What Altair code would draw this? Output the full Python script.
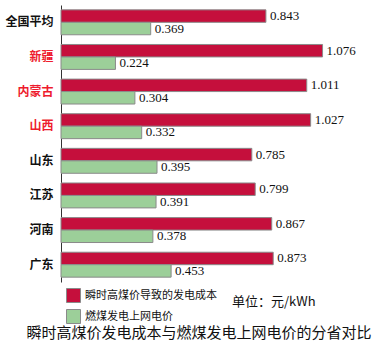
import altair as alt
import pandas as pd

provinces = ["全国平均", "新疆", "内蒙古", "山西", "山东", "江苏", "河南", "广东"]
series_names = ["瞬时高煤价导致的发电成本", "燃煤发电上网电价"]
cost = [0.843, 1.076, 1.011, 1.027, 0.785, 0.799, 0.867, 0.873]
price = [0.369, 0.224, 0.304, 0.332, 0.395, 0.391, 0.378, 0.453]
red_provinces = ["新疆", "内蒙古", "山西"]
unit_text = "单位：元/kWh"
title_text = "瞬时高煤价发电成本与燃煤发电上网电价的分省对比"

rows = []
for p, c, pr in zip(provinces, cost, price):
    rows.append({"province": p, "series": series_names[0], "value": c, "label": f"{c:.3f}"})
    rows.append({"province": p, "series": series_names[1], "value": pr, "label": f"{pr:.3f}"})
df = pd.DataFrame(rows)

red_list = ",".join(f"'{p}'" for p in red_provinces)
label_color_expr = f"indexof([{red_list}], datum.value) >= 0 ? '#ee1c2e' : '#111111'"

y_enc = alt.Y(
    "province:N",
    sort=provinces,
    scale=alt.Scale(paddingInner=0.28, paddingOuter=0.14),
    axis=alt.Axis(
        title=None,
        ticks=False,
        domainColor="#333333",
        labelFont="Noto Sans CJK SC",
        labelFontWeight="bold",
        labelFontSize=12,
        labelPadding=8,
        labelColor=alt.ExprRef(label_color_expr),
    ),
)
yoff = alt.YOffset("series:N", sort=series_names, scale=alt.Scale(domain=series_names))
x_enc = alt.X("value:Q", scale=alt.Scale(domain=[0, 1.3], nice=False), axis=None)

base = alt.Chart(df)

bars = base.mark_bar(stroke="#8a8a8a", strokeWidth=1).encode(
    y=y_enc,
    yOffset=yoff,
    x=x_enc,
    color=alt.Color(
        "series:N",
        scale=alt.Scale(domain=series_names, range=["#c50f3c", "#9ccf99"]),
        legend=alt.Legend(
            title=None,
            orient="none",
            legendX=5,
            legendY=283,
            direction="vertical",
            symbolType="square",
            symbolSize=196,
            symbolStrokeColor="#8a8a8a",
            symbolStrokeWidth=1,
            symbolOpacity=1,
            labelFont="Noto Sans CJK SC",
            labelFontSize=11,
            labelColor="#111111",
            rowPadding=2,
            padding=0,
        ),
    ),
)

texts = base.mark_text(
    align="left", baseline="middle", dx=4, font="Liberation Serif", fontSize=13, color="#111111"
).encode(y=alt.Y("province:N", sort=provinces), yOffset=yoff, x=x_enc, text="label:N")

unit = alt.Chart(pd.DataFrame({"t": [unit_text]})).mark_text(
    align="left", baseline="middle", font="Noto Sans CJK SC", fontSize=13, color="#111111"
).encode(x=alt.value(171), y=alt.value(297), text="t:N")

chart = (
    alt.layer(bars, texts, unit)
    .properties(
        width=316,
        height=277,
        padding={"left": 61, "top": 5, "right": 6, "bottom": 69},
        autosize=alt.AutoSizeParams(type="none"),
        title=alt.TitleParams(
            title_text,
            orient="bottom",
            anchor="middle",
            frame="group",
            font="Noto Sans CJK SC",
            fontSize=15,
            fontWeight="normal",
            color="#111111",
            offset=0,
            dx=-20,
        ),
    )
    .configure_view(stroke=None)
)

chart.save("out.html", embed_options={"renderer": "svg", "actions": False})
